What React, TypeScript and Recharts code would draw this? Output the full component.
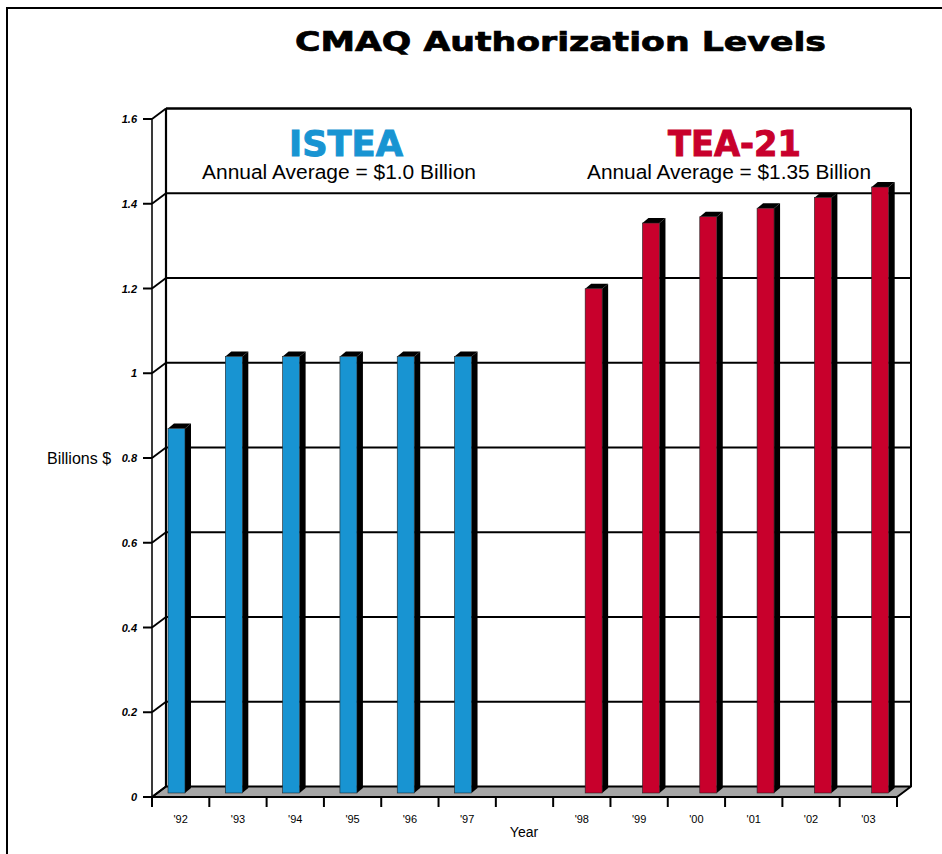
import React from 'react'
import { BarChart, Bar, XAxis, YAxis, CartesianGrid, Customized } from 'recharts'

const years = ["'92", "'93", "'94", "'95", "'96", "'97", '', "'98", "'99", "'00", "'01", "'02", "'03"]
const isteaValues = [0.86, 1.03, 1.03, 1.03, 1.03, 1.03, null, null, null, null, null, null, null]
const tea21Values = [null, null, null, null, null, null, null, 1.19, 1.345, 1.36, 1.38, 1.405, 1.43]
const yTicks = [0, 0.2, 0.4, 0.6, 0.8, 1, 1.2, 1.4, 1.6]

const data = years.map((year, i) => ({ year, istea: isteaValues[i], tea21: tea21Values[i] }))

const W = 942
const H = 854
const MARGIN = { top: 119, right: 45, bottom: 27, left: 92 }
const Y_AXIS_W = 60
const BAND = (W - MARGIN.right - MARGIN.left - Y_AXIS_W) / years.length
// depth of the box and of the bars
const DX = 14
const DY = -10.5
const BAR_W = 17
const BAR_DX = 6
const BAR_DY = -5
const BAR_LIFT = 4

const FONT = '"Liberation Sans", Arial, sans-serif'
const HEAVY = '"DejaVu Sans", "Liberation Sans", sans-serif'
const BLUE = '#1894d2'
const RED = '#c8002c'

// back wall lines, floor and wall edges, all from the y axis tick positions
const gridLine = (p: any) => {
  const pts: number[] = p.horizontalPoints && p.horizontalPoints.length ? p.horizontalPoints : [p.y, p.y + p.height]
  const top = Math.min(...pts)
  const bottom = Math.max(...pts)
  const { x1, x2, y1 } = p
  const back = (
    <line x1={x1 + DX} y1={y1 + DY} x2={x2 + DX} y2={y1 + DY} stroke="#000" strokeWidth={y1 === top ? 2.4 : 2} />
  )
  if (y1 !== bottom) return <g key={p.key}>{back}</g>
  return (
    <g key={p.key}>
      <line x1={x1 + DX} y1={top + DY} x2={x1 + DX} y2={bottom + DY} stroke="#000" strokeWidth={2.2} />
      <line x1={x2 + DX} y1={top + DY} x2={x2 + DX} y2={bottom + DY} stroke="#000" strokeWidth={2} />
      <polygon
        points={`${x1},${y1} ${x2},${y1} ${x2 + DX},${y1 + DY} ${x1 + DX},${y1 + DY}`}
        fill="#a6a6a6"
        stroke="#000"
        strokeWidth={2}
        strokeLinejoin="round"
      />
    </g>
  )
}

const Bar3D = (p: any) => {
  const { x, y, height, fill } = p
  if (height == null || !(height > 0)) return <g />
  const by = y - BAR_LIFT
  const bb = y + height - BAR_LIFT
  const r = x + BAR_W
  return (
    <g>
      <polygon points={`${r},${by} ${r + BAR_DX},${by + BAR_DY} ${r + BAR_DX},${bb + BAR_DY} ${r},${bb}`} fill="#000" />
      <polygon points={`${x},${by} ${x + BAR_DX},${by + BAR_DY} ${r + BAR_DX},${by + BAR_DY} ${r},${by}`} fill="#000" />
      <rect x={x} y={by} width={BAR_W} height={bb - by} fill={fill} stroke="#222" strokeWidth={0.6} />
    </g>
  )
}

const XTick = (p: any) => {
  const { x, y, payload, index } = p
  const left = x - BAND / 2
  return (
    <g>
      <line x1={left} y1={y} x2={left} y2={y + 10} stroke="#000" strokeWidth={2} />
      {index === years.length - 1 && (
        <line x1={x + BAND / 2} y1={y} x2={x + BAND / 2} y2={y + 10} stroke="#000" strokeWidth={2} />
      )}
      <text x={x} y={y + 26} textAnchor="middle" fontSize={11} fontFamily={FONT} fill="#000">
        {payload.value}
      </text>
    </g>
  )
}

const YTick = (p: any) => {
  const { x, y, payload } = p
  return (
    <g>
      <line x1={x - 9} y1={y} x2={x} y2={y} stroke="#000" strokeWidth={2} />
      <line x1={x} y1={y} x2={x + DX} y2={y + DY} stroke="#000" strokeWidth={1.8} />
      <text x={x - 15} y={y} dy={4} textAnchor="end" fontSize={11} fontWeight="bold" fontStyle="italic" fontFamily={FONT} fill="#000">
        {String(payload.value)}
      </text>
    </g>
  )
}

const Decorations = () => (
  <g>
    <rect x={7} y={8} width={1000} height={900} fill="none" stroke="#000" strokeWidth={2} />
    <text x={560.5} y={51} textAnchor="middle" fontFamily={HEAVY} fontWeight="bold" fontSize={26}
      textLength={531} lengthAdjust="spacingAndGlyphs" stroke="#000" strokeWidth={0.7} fill="#000">
      CMAQ Authorization Levels
    </text>
    <text x={346} y={156} textAnchor="middle" fontFamily={HEAVY} fontWeight="bold" fontSize={35}
      textLength={114} lengthAdjust="spacingAndGlyphs" stroke={BLUE} strokeWidth={1} fill={BLUE}>
      ISTEA
    </text>
    <text x={339} y={179} textAnchor="middle" fontFamily={FONT} fontSize={20}
      textLength={274} lengthAdjust="spacingAndGlyphs" fill="#000">
      Annual Average = $1.0 Billion
    </text>
    <text x={734.5} y={156} textAnchor="middle" fontFamily={HEAVY} fontWeight="bold" fontSize={35}
      textLength={133} lengthAdjust="spacingAndGlyphs" stroke={RED} strokeWidth={1} fill={RED}>
      TEA-21
    </text>
    <text x={729} y={179} textAnchor="middle" fontFamily={FONT} fontSize={20}
      textLength={284} lengthAdjust="spacingAndGlyphs" fill="#000">
      Annual Average = $1.35 Billion
    </text>
    <text x={47} y={464} fontFamily={FONT} fontSize={16} fill="#000">Billions $</text>
    <text x={524} y={837} textAnchor="middle" fontFamily={FONT} fontSize={14} fill="#000">Year</text>
  </g>
)

export default function App() {
  return (
    <div style={{ position: 'absolute', left: 0, top: 0, width: W, height: H, background: '#fff' }}>
      <BarChart width={W} height={H} data={data} margin={MARGIN} barSize={9} barGap={7}>
        <CartesianGrid horizontal={gridLine} vertical={false} />
        <XAxis dataKey="year" interval={0} tickSize={0} tickMargin={0} axisLine={false} tickLine={false} height={30} tick={<XTick />} />
        <YAxis
          type="number"
          domain={[0, 1.6]}
          ticks={yTicks}
          width={Y_AXIS_W}
          tickSize={0}
          tickMargin={0}
          tickLine={false}
          axisLine={{ stroke: '#3a3a3a', strokeWidth: 2 }}
          tick={<YTick />}
        />
        <Bar dataKey="istea" fill={BLUE} shape={<Bar3D />} isAnimationActive={false} />
        <Bar dataKey="tea21" fill={RED} shape={<Bar3D />} isAnimationActive={false} />
        <Customized component={Decorations} />
      </BarChart>
    </div>
  )
}
